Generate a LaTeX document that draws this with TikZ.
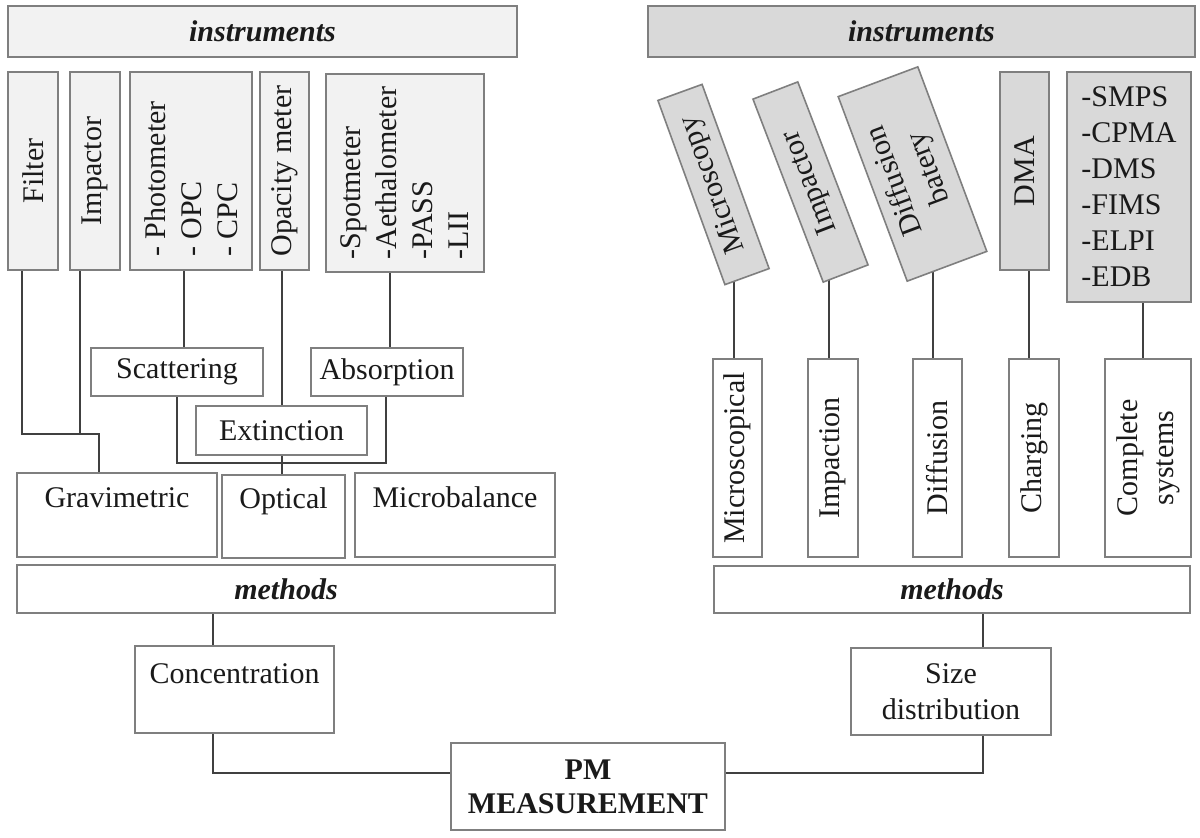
\documentclass[tikz,border=0pt]{standalone}
\usepackage{fontspec}
\setmainfont{Liberation Serif}
\usetikzlibrary{backgrounds}
\definecolor{bordc}{HTML}{7F7F7F}
\definecolor{connc}{HTML}{404040}
\definecolor{lfill}{HTML}{F2F2F2}
\definecolor{dfill}{HTML}{D9D9D9}
\definecolor{txtc}{HTML}{1A1A1A}
\newcommand{\hbx}[7][]{\node[box,#1,minimum width={(#5-#3)*0.5pt},minimum height={(#6-#4)*0.5pt}] (#2) at ({(#3+#5)/2},{(#4+#6)/2}) {#7};}
\begin{document}
\begin{tikzpicture}[x=0.5pt,y=-0.5pt,
 box/.style={draw=bordc,line width=0.8pt,inner sep=0pt,outer sep=0pt,fill=white,text=txtc},
 lbox/.style={fill=lfill}, dbox/.style={fill=dfill},
 conn/.style={draw=connc,line width=0.8pt},
 every node/.append style={font=\fontsize{15}{18}\selectfont},
 every label/.style={text=txtc,inner sep=0pt}]
\useasboundingbox (0,0) rectangle (1200,837);
% left instruments
\hbx[lbox]{instL}{8}{6}{517}{57}{\textbf{\textit{instruments}}}
\hbx[lbox,label={[rotate=90]center:Filter}]{filter}{8}{72}{58}{270}{}
\hbx[lbox,label={[rotate=90]center:Impactor}]{impL}{70}{72}{120}{270}{}
\hbx[lbox,label={[yshift=-4pt,rotate=90,align=left]center:{- Photometer\\- OPC\\- CPC}}]{photo}{130}{72}{252}{270}{}
\hbx[lbox,label={[rotate=90]center:Opacity meter}]{opac}{260}{72}{309}{270}{}
\hbx[lbox,label={[rotate=90,align=left]center:{-Spotmeter\\-Aethalometer\\-PASS\\-LII}}]{spot}{326}{74}{484}{272}{}
% left methods
\hbx{scat}{91}{348}{263}{396}{Scattering}
\hbx{absn}{311}{348}{463}{396}{Absorption}
\hbx{ext}{196}{406}{367}{455}{Extinction}
\hbx[label={[anchor=base,yshift=-17pt]north:Gravimetric}]{grav}{17}{473}{217}{557}{}
\hbx[label={[anchor=base,yshift=-16.5pt]north:Optical}]{opt}{222}{475}{345}{558}{}
\hbx[label={[anchor=base,yshift=-17pt]north:Microbalance}]{micb}{355}{473}{555}{557}{}
\hbx{methL}{17}{565}{555}{613}{\textbf{\textit{methods}}}
\hbx[label={[anchor=base,yshift=-18.5pt]north:Concentration}]{conc}{135}{646}{334}{733}{}
% right instruments
\hbx[dbox]{instR}{648}{6}{1195}{57}{\textbf{\textit{instruments}}}
\node[box,dbox,rotate=110,minimum width=98pt,minimum height=23.5pt] (microscopy) at (713.5,184.5) {Microscopy};
\node[box,dbox,rotate=111,minimum width=98pt,minimum height=24pt] (impR) at (810.5,182) {Impactor};
\node[box,dbox,rotate=110.5,minimum width=98.5pt,minimum height=42.5pt,align=center] (diffb) at (912.5,174) {Diffusion\\batery};
\hbx[dbox,label={[rotate=90]center:DMA}]{dma}{1000}{72}{1049}{270}{}
\hbx[dbox,align=left]{smps}{1067}{72}{1191}{302}{-SMPS\\-CPMA\\-DMS\\-FIMS\\-ELPI\\-EDB}
% right methods
\hbx[label={[rotate=90]center:Microscopical}]{mscal}{713}{359}{762}{557}{}
\hbx[label={[rotate=90]center:Impaction}]{impn}{808}{359}{858}{557}{}
\hbx[label={[rotate=90]center:Diffusion}]{diffn}{913}{359}{962}{557}{}
\hbx[label={[rotate=90]center:Charging}]{charg}{1009}{359}{1059}{557}{}
\hbx[label={[rotate=90,align=center]center:{Complete\\systems}}]{compl}{1105}{359}{1191}{557}{}
\hbx{methR}{714}{566}{1190}{613}{\textbf{\textit{methods}}}
\hbx[align=center]{size}{851}{648}{1051}{735}{Size\\distribution}
\hbx[align=center,font={\fontsize{15}{17}\selectfont\bfseries}]{pm}{451}{743}{725}{830}{PM\\MEASUREMENT}
% connectors
\begin{pgfonlayer}{background}
\coordinate (jg) at (99,434);
\coordinate (jo) at (282,463);
\draw[conn] (22,0 |- filter.south) |- (jg) -- (jg |- grav.north);
\draw[conn] (80,0 |- impL.south) -- (80,0 |- jg);
\draw[conn] (184,0 |- photo.south) -- (184,0 |- scat.north);
\draw[conn] (282,0 |- opac.south) -- (282,0 |- ext.north);
\draw[conn] (390,0 |- spot.south) -- (390,0 |- absn.north);
\draw[conn] (177,0 |- scat.south) |- (jo) -| (386,0 |- absn.south);
\draw[conn] (jo |- ext.south) -- (jo |- opt.north);
\draw[conn] (213,0 |- methL.south) -- (213,0 |- conc.north);
\draw[conn] (213,0 |- conc.south) |- (pm.west |- 0,773);
\draw[conn] (pm.east |- 0,773) -| (983,0 |- size.south);
\draw[conn] (983,0 |- methR.south) -- (983,0 |- size.north);
\draw[conn] (734,0 |- microscopy.west) -- (734,0 |- mscal.north);
\draw[conn] (829,0 |- impR.west) -- (829,0 |- impn.north);
\draw[conn] (933,0 |- diffb.west) -- (933,0 |- diffn.north);
\draw[conn] (1029,0 |- dma.south) -- (1029,0 |- charg.north);
\draw[conn] (1143,0 |- smps.south) -- (1143,0 |- compl.north);
\end{pgfonlayer}
\end{tikzpicture}
\end{document}
